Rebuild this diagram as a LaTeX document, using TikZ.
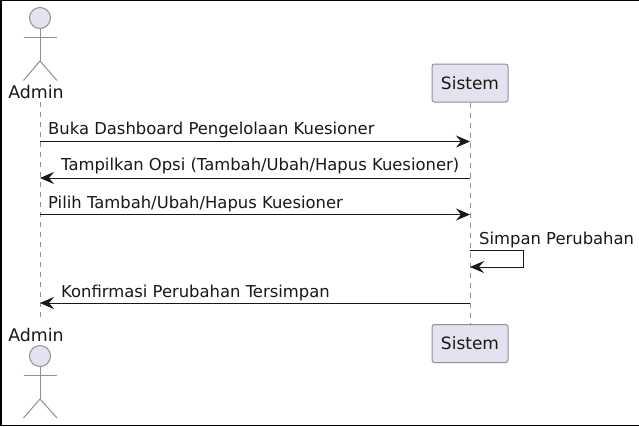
\documentclass[tikz,border=0pt]{standalone}
\usepackage{fontspec}
\setmainfont{DejaVu Sans}
\usetikzlibrary{arrows.meta}
\definecolor{pfill}{HTML}{E2E2F0}
\definecolor{pline}{HTML}{8F8F98}
\definecolor{ink}{HTML}{181818}
\tikzset{
  x=1pt,y=-1pt,
  lifeline/.style={draw=pline,line width=1pt,dash pattern=on 5pt off 5pt},
  actorline/.style={draw=pline,line width=1pt},
  head/.style={circle,draw=pline,fill=pfill,line width=1pt,minimum size=21pt,inner sep=0pt},
  part/.style={draw=pline,fill=pfill,rounded corners=2.5pt,line width=1pt,minimum width=76pt,minimum height=38pt,inner sep=0pt,text=ink,font=\fontsize{17pt}{20pt}\selectfont},
  alabel/.style={text=ink,inner sep=0pt,font=\fontsize{17.4pt}{20pt}\selectfont},
  msg/.style={draw=ink,line width=1pt,-{Stealth[length=14pt,width=12pt,inset=5pt,fill=ink]}},
  mlabel/.style={text=ink,inner sep=0pt,anchor=base west,font=\fontsize{16.4pt}{19pt}\selectfont},
}
\begin{document}
\begin{tikzpicture}
\useasboundingbox (0,0) rectangle (639,426);
\fill[white] (0,0) rectangle (639,426);
\draw[black,line width=2pt] (0,0) -- (639,0);
\draw[black,line width=4pt] (0,0) -- (0,426);
\draw[black,line width=1.5pt] (0,425.5) -- (639,425.5);

% participants
\node[alabel] (adminT) at (36,92) {Admin};
\node[alabel] (adminB) at (36,335) {Admin};
\node[part] (sisT) at (470,83) {Sistem};
\node[part] (sisB) at (470,343.5) {Sistem};

% lifelines
\coordinate (aTop) at (40,102);
\coordinate (aBot) at (40,322);
\draw[lifeline] (aTop) -- (aBot);
\draw[lifeline] (sisT.south) -- (sisB.north);

% top actor
\node[head] (h1) at (40,18) {};
\coordinate (n1) at (40,61);
\coordinate (la1) at (23.5,37.5);
\coordinate (ra1) at (57,37.5);
\coordinate (lf1) at (23.5,80.5);
\coordinate (rf1) at (57,80.5);
\draw[actorline] (h1.south) -- (n1);
\draw[actorline] (la1) -- (ra1);
\draw[actorline] (lf1) -- (n1) -- (rf1);

% bottom actor
\node[head] (h2) at (40,356) {};
\coordinate (n2) at (40,399);
\coordinate (la2) at (23.5,375.5);
\coordinate (ra2) at (57,375.5);
\coordinate (lf2) at (23.5,418);
\coordinate (rf2) at (57,418);
\draw[actorline] (h2.south) -- (n2);
\draw[actorline] (la2) -- (ra2);
\draw[actorline] (lf2) -- (n2) -- (rf2);

% messages
\coordinate (a1) at (40,141.5); \coordinate (s1) at (470,141.5);
\coordinate (a2) at (40,178);   \coordinate (s2) at (470,178);
\coordinate (a3) at (40,214.5); \coordinate (s3) at (470,214.5);
\coordinate (s4) at (470,250.5); \coordinate (s4b) at (470,267);
\coordinate (c4a) at (523,250.5); \coordinate (c4b) at (523,267);
\coordinate (a5) at (40,303);   \coordinate (s5) at (470,303);
\draw[msg] (a1) -- (s1);
\draw[msg] (s2) -- (a2);
\draw[msg] (a3) -- (s3);
\draw[msg] (s4) -- (c4a) -- (c4b) -- (s4b);
\draw[msg] (s5) -- (a5);

\node[mlabel] (m1) at (48,134) {Buka Dashboard Pengelolaan Kuesioner};
\node[mlabel] (m2) at (61,170) {Tampilkan Opsi (Tambah/Ubah/Hapus Kuesioner)};
\node[mlabel] (m3) at (48,208) {Pilih Tambah/Ubah/Hapus Kuesioner};
\node[mlabel] (m4) at (479,244) {Simpan Perubahan};
\node[mlabel] (m5) at (61,297) {Konfirmasi Perubahan Tersimpan};
\end{tikzpicture}
\end{document}
